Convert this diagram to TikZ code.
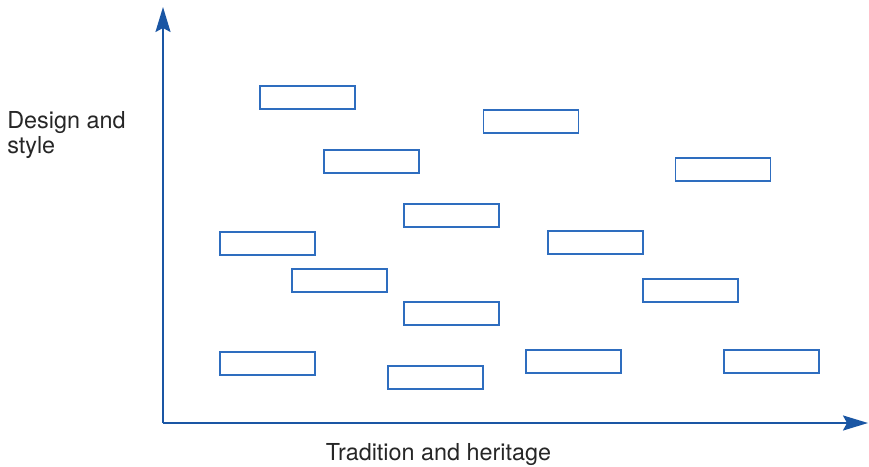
\documentclass[tikz,border=0pt]{standalone}
\usepackage{fontspec}
\setmainfont{TeX Gyre Heros}
\usetikzlibrary{positioning, arrows.meta}
\definecolor{axisblue}{HTML}{1A56A4}
\definecolor{boxblue}{HTML}{2E6DBF}

\begin{document}
\begin{tikzpicture}[scale=1.0, >={Stealth[length=5mm, width=3mm, inset=0.8mm]}]
    \tikzset{
        brand/.style={draw=boxblue, line width=0.9pt, minimum width=1.9cm,
            minimum height=0.46cm, inner sep=0pt},
        axislabel/.style={font=\fontsize{13.3}{14.5}\selectfont, text=black!85}
    }
    \useasboundingbox (0, 0) rectangle (17.38, 9.32);

    % --- Axes ---
    \coordinate (origin) at (3.26, 0.86);
    \coordinate (ytip) at (3.26, 9.18);
    \coordinate (xtip) at (17.36, 0.86);
    \draw[->, axisblue, line width=1.1pt] (origin) -- (ytip);
    \draw[->, axisblue, line width=1.1pt] (origin) -- (xtip);

    % --- Axis labels ---
    \node[axislabel, anchor=west, align=left, inner sep=0pt] (ylabel) at (0.14, 6.62) {Design and\\style};
    \node[axislabel] (xlabel) at (8.77, 0.22) {Tradition and heritage};

    % --- Brand boxes ---
    \node[brand] (b1) at (6.15, 7.37) {};
    \node[brand] (b2) at (10.62, 6.89) {};
    \node[brand] (b3) at (7.43, 6.09) {};
    \node[brand] (b4) at (14.46, 5.93) {};
    \node[brand] (b5) at (9.03, 5.01) {};
    \node[brand] (b6) at (5.35, 4.45) {};
    \node[brand] (b7) at (11.91, 4.47) {};
    \node[brand] (b8) at (6.79, 3.71) {};
    \node[brand] (b9) at (13.81, 3.51) {};
    \node[brand] (b10) at (9.03, 3.05) {};
    \node[brand] (b11) at (5.35, 2.05) {};
    \node[brand] (b12) at (11.47, 2.09) {};
    \node[brand] (b13) at (15.43, 2.09) {};
    \node[brand] (b14) at (8.71, 1.77) {};

\end{tikzpicture}
\end{document}
